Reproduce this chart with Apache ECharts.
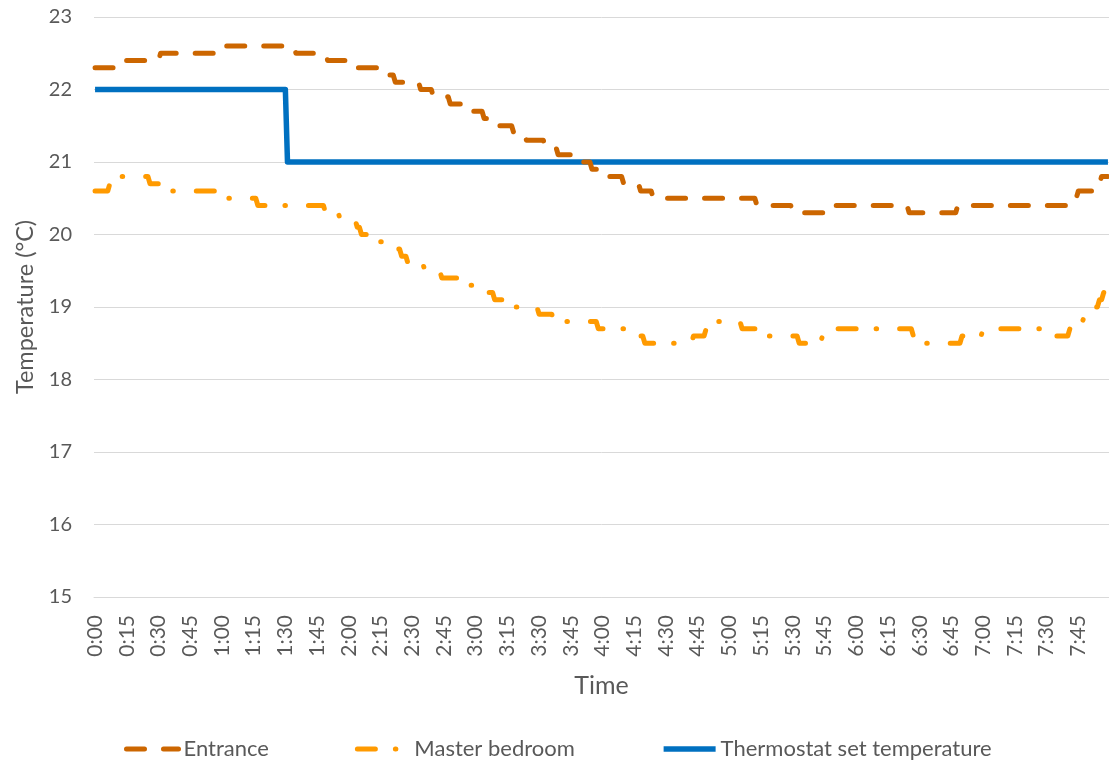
<!DOCTYPE html>
<html><head><meta charset="utf-8">
<script src="https://cdn.jsdelivr.net/npm/echarts@6/dist/echarts.min.js"></script>
<style>html,body{margin:0;padding:0;background:#fff}#c{width:1109px;height:765px}</style>
</head><body><div id="c"></div>
<script>
// Time axis: one category per minute from 0:00 to 7:59, labels shown every 15 minutes
const totalMinutes = 480;
const labelEveryMinutes = 15;

// Step readings: [minute the reading starts, temperature °C]
const entranceSteps = [
  [0,22.3],[13,22.4],[31,22.5],[60,22.6],[95,22.5],[110,22.4],[121,22.3],[138,22.2],[142,22.1],
  [154,22.0],[160,21.9],[168,21.8],[175,21.7],[184,21.6],[190,21.5],[198,21.4],[204,21.3],
  [213,21.2],[219,21.1],[230,21.0],[235,20.9],[243,20.8],[250,20.7],[258,20.6],[264,20.5],
  [313,20.4],[330,20.3],[348,20.4],[385,20.3],[408,20.4],[461,20.5],[465,20.6],[474,20.7],[476,20.8]
];
const bedroomSteps = [
  [0,20.6],[7,20.7],[12,20.8],[26,20.7],[36,20.6],[58,20.5],[77,20.4],[109,20.3],[116,20.2],
  [124,20.1],[126,20.0],[133,19.9],[139,19.8],[145,19.7],[148,19.6],[156,19.5],[164,19.4],
  [174,19.3],[183,19.2],[189,19.1],[197,19.0],[210,18.9],[217,18.8],[238,18.7],[252,18.6],
  [260,18.5],[283,18.6],[289,18.7],[294,18.8],[306,18.7],[315,18.6],[333,18.5],[344,18.6],
  [349,18.7],[387,18.6],[392,18.5],[410,18.6],[420,18.7],[451,18.6],[461,18.7],[464,18.8],
  [468,18.9],[473,19.0],[475,19.1],[477,19.2]
];
const thermostatSteps = [[0,22],[91,21]];

const seriesNames = ['Entrance','Master bedroom','Thermostat set temperature'];
const yMin = 15, yMax = 23, yStep = 1;

function expand(steps){
  const out = []; let k = 0;
  for (let m = 0; m < totalMinutes; m++){
    while (k + 1 < steps.length && steps[k+1][0] <= m) k++;
    out.push(steps[k][1]);
  }
  return out;
}
const categories = [];
for (let m = 0; m < totalMinutes; m++) categories.push(Math.floor(m/60) + ':' + String(m%60).padStart(2,'0'));

const FONT = 'Lato';
const TXT = '#595959';
const chart = echarts.init(document.getElementById('c'), null, {renderer:'canvas'});
chart.setOption({
  animation: false,
  backgroundColor: '#fff',
  textStyle: {fontFamily: FONT},
  grid: {left: 94, right: 0, top: 17, bottom: 168, containLabel: false},
  legend: {
    left: 119, top: 733, itemGap: 86, itemWidth: 52, itemHeight: 14,
    textStyle: {fontFamily: FONT, fontSize: 22, color: TXT},
    lineStyle: {width: 'inherit'},
    itemStyle: {opacity: 0},
    data: seriesNames
  },
  xAxis: {
    type: 'category', data: categories, boundaryGap: true,
    name: 'Time', nameLocation: 'middle', nameGap: 76,
    nameTextStyle: {fontFamily: FONT, fontSize: 25, color: TXT},
    axisLine: {lineStyle: {color: '#D9D9D9', width: 1}},
    axisTick: {show: false},
    axisLabel: {interval: labelEveryMinutes - 1, rotate: 90, margin: 18, fontFamily: FONT, fontSize: 21, color: TXT},
    splitLine: {show: false}
  },
  yAxis: {
    type: 'value', min: yMin, max: yMax, interval: yStep,
    name: 'Temperature (°C)', nameLocation: 'middle', nameGap: 56, nameRotate: 90,
    nameTextStyle: {fontFamily: FONT, fontSize: 23.5, color: TXT},
    axisLine: {show: false}, axisTick: {show: false},
    axisLabel: {margin: 22, fontFamily: FONT, fontSize: 20, color: TXT},
    splitLine: {lineStyle: {color: '#D9D9D9', width: 1}}
  },
  series: [
    {name: seriesNames[0], type: 'line', data: expand(entranceSteps), symbol: 'none', z: 3,
     itemStyle: {color: '#CC6600'},
     lineStyle: {color: '#CC6600', width: 5, type: [18,19], cap: 'round', join: 'round'}},
    {name: seriesNames[1], type: 'line', data: expand(bedroomSteps), symbol: 'none', z: 3,
     itemStyle: {color: '#FF9A00'},
     lineStyle: {color: '#FF9A00', width: 5, type: [18,20,0.5,23], cap: 'round', join: 'round'}},
    {name: seriesNames[2], type: 'line', data: expand(thermostatSteps), symbol: 'none', z: 2,
     itemStyle: {color: '#0070C0'},
     lineStyle: {color: '#0070C0', width: 5.5, join: 'round'}}
  ]
});
</script></body></html>
